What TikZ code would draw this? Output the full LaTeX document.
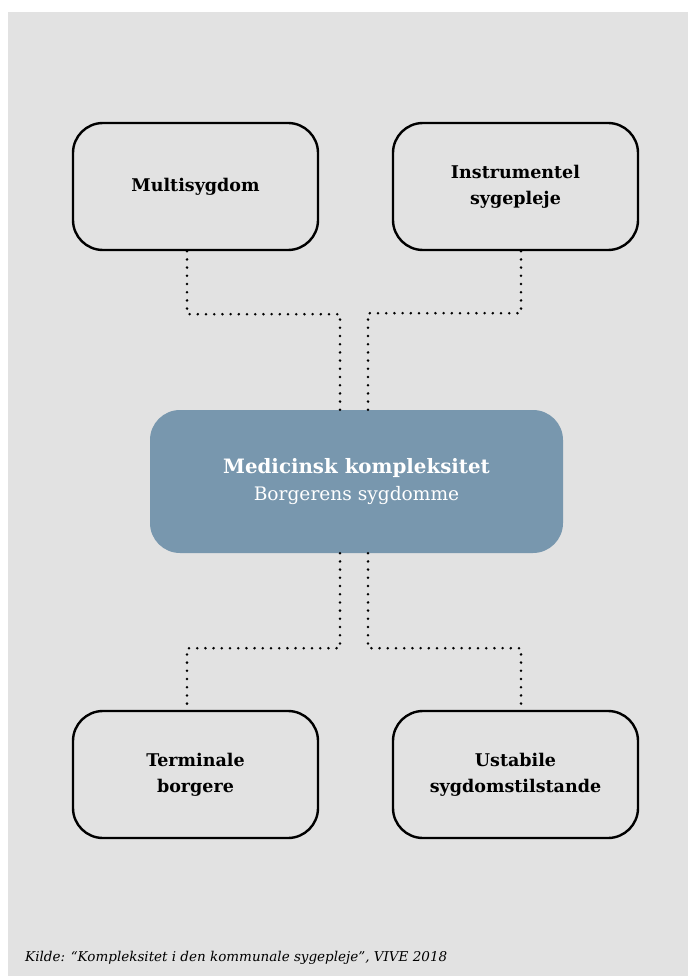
\documentclass[tikz,border=0pt]{standalone}
\usepackage{fontspec}
\setmainfont{DejaVu Serif}
\usepackage{xcolor}
\definecolor{panelgrey}{HTML}{E2E2E2}
\definecolor{medblue}{HTML}{7897AE}
\usetikzlibrary{positioning}

\begin{document}
\begin{tikzpicture}[x=1pt,y=-1pt,
  factor/.style={draw,line width=2.4pt,rounded corners=30pt,minimum width=245pt,minimum height=127pt,align=center,font=\bfseries\fontsize{17.5}{26}\selectfont},
  core/.style={fill=medblue,rounded corners=30pt,minimum width=413pt,minimum height=143pt,align=center,text=white,font=\fontsize{18.6}{27}\selectfont},
  dots/.style={line width=2.8pt,line cap=round,dash pattern=on 0pt off 8.2pt}]
  \useasboundingbox (0,0) rectangle (688,976);
  % panel
  \fill[panelgrey] (8,12) rectangle (688,976);
  % centre box
  \node[core] (med) at (356.5,481.5) {{\bfseries\fontsize{19.8}{27}\selectfont Medicinsk kompleksitet}\\Borgerens sygdomme};
  % top factors
  \node[factor] (multi) at (195.5,186.5) {Multisygdom};
  \node[factor] (instr) at (515.5,186.5) {Instrumentel\\sygepleje};
  % bottom factors
  \node[factor] (term) at (195.5,774.5) {Terminale\\borgere};
  \node[factor] (ustab) at (515.5,774.5) {Ustabile\\sygdomstilstande};
  % dotted links
  \draw[dots] ([xshift=-8.5pt]multi.south) -- ++(0,63) -| ([xshift=-16.5pt]med.north);
  \draw[dots] ([xshift=5.5pt]instr.south) -- ++(0,62) -| ([xshift=11.5pt]med.north);
  \draw[dots] ([xshift=-16.5pt]med.south) -- ++(0,95) -| ([xshift=-8.5pt]term.north);
  \draw[dots] ([xshift=11.5pt]med.south) -- ++(0,95) -| ([xshift=5.5pt]ustab.north);
  % source
  \node[anchor=west,inner sep=0pt,font=\itshape\fontsize{13.5}{16}\selectfont] (src) at (25,958) {Kilde: “Kompleksitet i den kommunale sygepleje”, VIVE 2018};
\end{tikzpicture}
\end{document}
